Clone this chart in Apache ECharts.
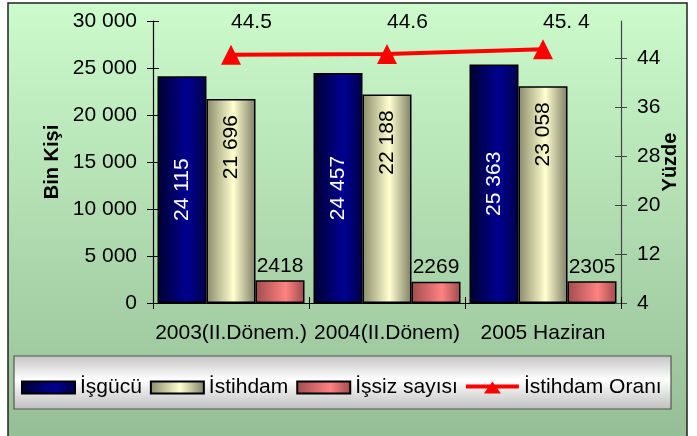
<!DOCTYPE html>
<html>
<head>
<meta charset="utf-8">
<script src="https://cdn.jsdelivr.net/npm/echarts@6/dist/echarts.min.js"></script>
<style>html,body{margin:0;padding:0;background:#fff;}#c{width:697px;height:436px;}</style>
</head>
<body>
<div id="c"></div>
<script>
const categories = ['2003(II.Dönem.)', '2004(II.Dönem)', '2005 Haziran'];
const isgucu = [24115, 24457, 25363];
const istihdam = [21696, 22188, 23058];
const issiz = [2418, 2269, 2305];
const oran = [44.5, 44.6, 45.4];
const oranLabels = ['44.5', '44.6', '45. 4'];
const rightTicks = [4, 12, 20, 28, 36, 44];
const seriesNames = ['İşgücü', 'İstihdam', 'İşsiz sayısı', 'İstihdam Oranı'];

const FONT = '"Liberation Sans", Arial, sans-serif';
const FS = 21;
const spaceFmt = v => String(v).replace(/\B(?=(\d{3})+(?!\d))/g, ' ');
const grad = (edge, mid, edge2, pos) => new echarts.graphic.LinearGradient(0, 0, 1, 0, [
  {offset: 0, color: edge}, {offset: pos, color: mid}, {offset: 1, color: edge2}
]);

const chart = echarts.init(document.getElementById('c'));
const txt = {fontFamily: FONT, fontSize: FS, color: '#000'};
const lineIcon = 'path://M0,3 L24.4,3 L26.5,0 L28.6,3 L53,3 L53,7 L31.5,7 L35,12 L18,12 L21.5,7 L0,7 Z';

chart.setOption({
  backgroundColor: '#fff',
  animation: false,
  textStyle: {fontFamily: FONT},
  graphic: [
    {type: 'rect', z: -10, shape: {x: 8, y: 3, width: 679, height: 450},
      style: {fill: new echarts.graphic.LinearGradient(0, 0, 0, 1, [
        {offset: 0, color: '#CCFBCC'}, {offset: 1, color: '#94BC94'}]),
        stroke: '#222', lineWidth: 1.5}},
    {type: 'rect', z: -5, shape: {x: 14, y: 356, width: 657, height: 53},
      style: {fill: new echarts.graphic.LinearGradient(0, 0, 0, 1, [
        {offset: 0, color: '#C4C4C4'}, {offset: 0.45, color: '#FFFFFF'}, {offset: 1, color: '#BEBEBE'}]),
        stroke: '#555', lineWidth: 1.2}}
  ],
  grid: {left: 153, right: 76, top: 21, bottom: 133, containLabel: false},
  legend: {
    left: 21, top: 377, padding: 0, itemGap: 8,
    itemWidth: 53, itemHeight: 12,
    textStyle: {fontFamily: FONT, fontSize: FS, color: '#000'},
    data: [
      {name: seriesNames[0], icon: 'rect'},
      {name: seriesNames[1], icon: 'rect'},
      {name: seriesNames[2], icon: 'rect'},
      {name: seriesNames[3], icon: lineIcon, itemStyle: {color: '#FF0000', borderWidth: 0}}
    ]
  },
  xAxis: [
    {type: 'category', data: categories,
      axisLine: {lineStyle: {color: '#000', width: 1.2}},
      axisTick: {show: true, length: 6, lineStyle: {color: '#000'}},
      axisLabel: Object.assign({margin: 20, interval: 0, hideOverlap: false}, txt)},
    {type: 'category', data: categories, position: 'bottom',
      axisLine: {show: false}, axisLabel: {show: false},
      axisTick: {show: true, inside: true, length: 6, lineStyle: {color: '#000'}}}
  ],
  yAxis: [
    {type: 'value', min: 0, max: 30000, interval: 5000,
      name: 'Bin Kişi', nameLocation: 'middle', nameGap: 91, nameRotate: 90, nameMoveOverlap: false,
      nameTextStyle: {fontFamily: FONT, fontSize: FS - 1, fontWeight: 'bold', color: '#000'},
      axisLine: {show: true, lineStyle: {color: '#000', width: 1.2}},
      axisTick: {show: true, length: 6, lineStyle: {color: '#000'}},
      splitLine: {show: false},
      axisLabel: Object.assign({margin: 16, formatter: spaceFmt}, txt)},
    {type: 'value', min: 4, max: 50, position: 'right',
      name: 'Yüzde', nameLocation: 'middle', nameGap: 39, nameRotate: 90, nameMoveOverlap: false,
      nameTextStyle: {fontFamily: FONT, fontSize: FS - 1, fontWeight: 'bold', color: '#000'},
      axisLine: {show: true, lineStyle: {color: '#444', width: 1.2}},
      axisTick: {show: true, length: 6, customValues: rightTicks, lineStyle: {color: '#444'}},
      splitLine: {show: false},
      axisLabel: Object.assign({margin: 16, customValues: rightTicks}, txt)},
    {type: 'value', min: 0, max: 30000, interval: 5000, position: 'left',
      axisLine: {show: false}, axisLabel: {show: false}, splitLine: {show: false},
      axisTick: {show: true, inside: true, length: 6, lineStyle: {color: '#000'}}},
    {type: 'value', min: 4, max: 50, position: 'right',
      axisLine: {show: false}, axisLabel: {show: false}, splitLine: {show: false},
      axisTick: {show: true, inside: true, length: 6, customValues: rightTicks, lineStyle: {color: '#444'}}}
  ],
  series: [
    {name: seriesNames[0], type: 'bar', data: isgucu, barWidth: 49, barGap: '0%',
      itemStyle: {color: grad('#000030', '#000092', '#00004A', 0.6), borderColor: '#000', borderWidth: 1.5},
      label: {show: true, position: 'inside', rotate: 90, formatter: p => spaceFmt(p.value),
        fontFamily: FONT, fontSize: FS, color: '#fff'}},
    {name: seriesNames[1], type: 'bar', data: istihdam, barWidth: 49, barGap: '0%',
      itemStyle: {color: grad('#8A8A6A', '#FFFFD0', '#7E7E66', 0.55), borderColor: '#000', borderWidth: 1.5},
      label: {show: true, position: 'insideTop', rotate: 90, align: 'right', verticalAlign: 'middle',
        distance: 16, formatter: p => spaceFmt(p.value),
        fontFamily: FONT, fontSize: FS, color: '#000'}},
    {name: seriesNames[2], type: 'bar', data: issiz, barWidth: 49, barGap: '0%',
      itemStyle: {color: grad('#A04C4C', '#FF8282', '#9E4A4A', 0.62), borderColor: '#000', borderWidth: 1.5},
      label: {show: true, position: 'top', distance: 4,
        fontFamily: FONT, fontSize: FS, color: '#000'}},
    {name: seriesNames[3], type: 'line', yAxisIndex: 1, data: oran,
      symbol: 'triangle', symbolSize: 20,
      lineStyle: {color: '#FF0000', width: 4},
      itemStyle: {color: '#FF0000'},
      label: {show: true, position: 'top', distance: 13, formatter: p => oranLabels[p.dataIndex],
        fontFamily: FONT, fontSize: FS, color: '#000'},
      labelLayout: {y: 22, verticalAlign: 'middle'}}
  ]
});
</script>
</body>
</html>
